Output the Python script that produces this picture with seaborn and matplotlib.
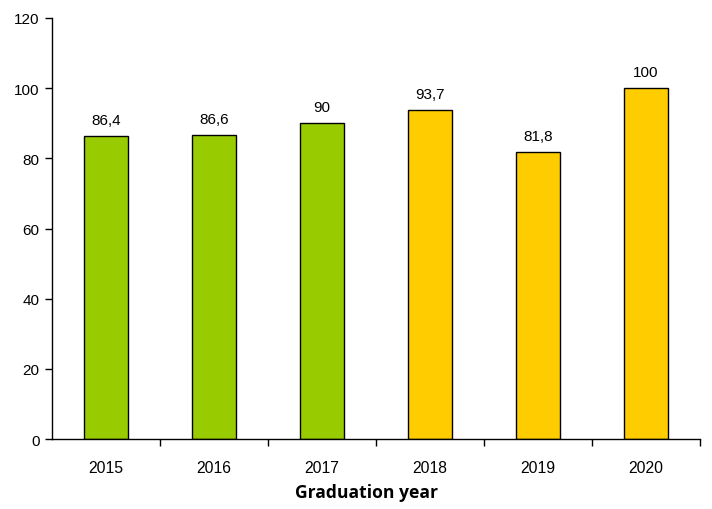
import pandas as pd
import matplotlib.pyplot as plt
import seaborn as sns

# Graduation rate per year
years = ['2015', '2016', '2017', '2018', '2019', '2020']
rates = [86.4, 86.6, 90, 93.7, 81.8, 100]
groups = ['old', 'old', 'old', 'new', 'new', 'new']
y_ticks = [0, 20, 40, 60, 80, 100, 120]

df = pd.DataFrame({'Year': years, 'Rate': rates, 'Group': groups})

sns.set_style('white')
plt.rcParams['font.family'] = ['Liberation Sans', 'DejaVu Sans']
plt.rcParams['text.color'] = 'black'
plt.rcParams['xtick.color'] = 'black'
plt.rcParams['ytick.color'] = 'black'
plt.rcParams['axes.labelcolor'] = 'black'

fig = plt.figure(figsize=(7.12, 5.10), dpi=100)
ax = fig.add_axes([0.073, 0.137, 0.910, 0.826])

sns.barplot(data=df, x='Year', y='Rate', hue='Group',
            palette={'old': '#99CC00', 'new': '#FFCC00'}, saturation=1,
            dodge=False, width=0.41, edgecolor='black', linewidth=1,
            legend=False, ax=ax)

# Data labels with comma decimals
for i, v in enumerate(rates):
    txt = f"{v:g}".replace('.', ',')
    ax.text(i, v + 3.4, txt, ha='center', va='baseline', fontsize=11)

ax.set_xlim(-0.5, 5.5)
ax.set_ylim(0, 120)
ax.set_yticks(y_ticks)
ax.tick_params(axis='y', labelsize=11, length=5, width=1, direction='out', left=True, pad=4)
ax.tick_params(axis='x', which='major', length=0, labelsize=11.3, pad=15)
ax.set_xticks([i + 0.5 for i in range(6)], minor=True)
ax.tick_params(axis='x', which='minor', length=5, width=1, direction='out', bottom=True)

ax.set_xlabel('Graduation year', fontsize=12.6, fontweight='bold', family='Open Sans')
ax.xaxis.set_label_coords(0.486, -0.103)
ax.set_ylabel('')

for s in ['top', 'right']:
    ax.spines[s].set_visible(False)
for s in ['left', 'bottom']:
    ax.spines[s].set_color('black')
    ax.spines[s].set_linewidth(1)

fig.savefig('out.png', dpi=100)
